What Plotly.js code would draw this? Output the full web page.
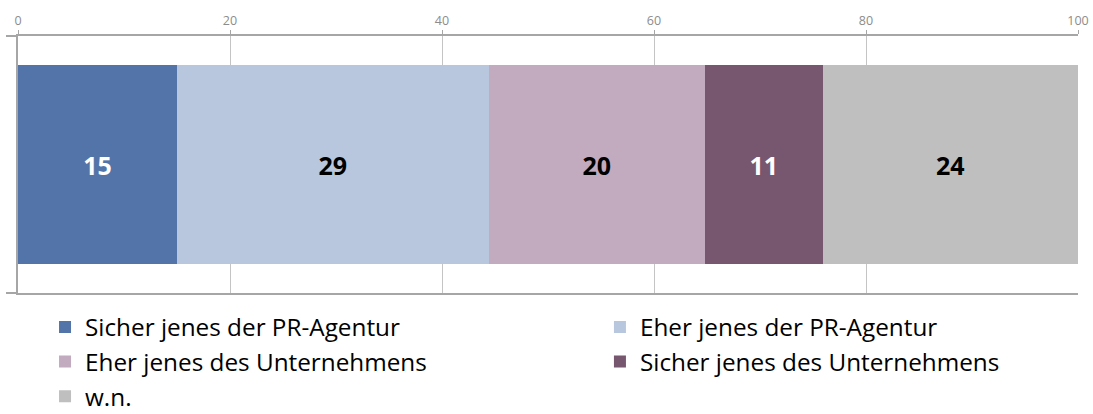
<!DOCTYPE html>
<html>
<head>
<meta charset="utf-8">
<script src="https://cdn.plot.ly/plotly-3.0.1.min.js"></script>
<style>html,body{margin:0;padding:0;background:#fff;}#chart{width:1093px;height:414px;}</style>
</head>
<body>
<div id="chart"></div>
<script>
const seriesNames = ["Sicher jenes der PR-Agentur", "Eher jenes der PR-Agentur", "Eher jenes des Unternehmens", "Sicher jenes des Unternehmens", "w.n."];
const seriesValues = [15.0, 29.4, 20.4, 11.1, 24.1];
const seriesLabels = ["15", "29", "20", "11", "24"];
const seriesColors = ["#5274a8", "#b8c7de", "#c2aabf", "#77566f", "#bfbfbf"];
const labelColors = ["#ffffff", "#000000", "#000000", "#ffffff", "#000000"];
const legendColumn = ["legend", "legend2", "legend", "legend2", "legend"];
const tickValues = [0, 20, 40, 60, 80, 100];

const font = "'Open Sans', 'Noto Sans', sans-serif";
const traces = seriesNames.map((name, i) => ({
  type: "bar",
  orientation: "h",
  name: name,
  legend: legendColumn[i],
  legendgroup: "g" + i,
  x: [seriesValues[i]],
  y: [0],
  width: 0.775,
  marker: {color: seriesColors[i], line: {width: 0}},
  text: [seriesLabels[i]],
  textposition: "inside",
  insidetextanchor: "middle",
  textangle: 0,
  constraintext: "none",
  textfont: {family: font, size: 25, color: labelColors[i], weight: 700},
  hoverinfo: "none"
}));

const legendBase = {
  orientation: "v", yref: "container", y: 0.264, yanchor: "top", xanchor: "left",
  font: {family: font, size: 24.3, color: "#000"},
  traceorder: "grouped", tracegroupgap: 0, itemwidth: 30,
  bgcolor: "rgba(0,0,0,0)", borderwidth: 0
};

const layout = {
  width: 1093, height: 414,
  margin: {l: 18, r: 15, t: 36, b: 121, pad: 0},
  barmode: "stack",
  showlegend: true,
  paper_bgcolor: "#fff", plot_bgcolor: "#fff",
  uniformtext: {mode: false},
  xaxis: {
    side: "top", range: [0, 100], tickvals: tickValues, ticktext: tickValues.map(String),
    showgrid: true, gridcolor: "#c4c4c4", gridwidth: 1,
    showline: true, linecolor: "#a6a6a6", linewidth: 2, mirror: true,
    ticks: "outside", ticklen: 4, tickcolor: "#a6a6a6",
    tickfont: {family: font, size: 12.5, color: "#8c8c8c"},
    zeroline: false, fixedrange: true
  },
  yaxis: {
    range: [-0.5, 0.5], tickvals: [-0.5, 0.5], showticklabels: false,
    ticks: "outside", ticklen: 10, tickcolor: "#a6a6a6", tickwidth: 2,
    showline: true, linecolor: "#a6a6a6", linewidth: 2,
    showgrid: false, zeroline: false, fixedrange: true
  },
  legend: Object.assign({}, legendBase, {x: 0.0255}),
  legend2: Object.assign({}, legendBase, {x: 0.549})
};

Plotly.newPlot("chart", traces, layout, {displayModeBar: false, staticPlot: true});
</script>
</body>
</html>
